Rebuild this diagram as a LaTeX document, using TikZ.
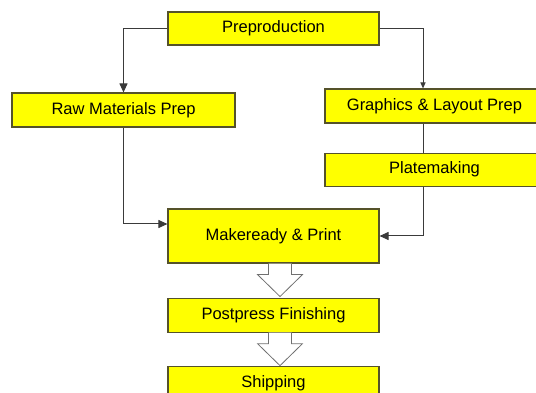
\documentclass[tikz,border=0pt]{standalone}
\usepackage{fontspec}
\setmainfont{Liberation Sans}
\usetikzlibrary{positioning, arrows.meta}
\definecolor{stepfill}{HTML}{FFFF00}
\definecolor{stepstroke}{HTML}{55522A}
\definecolor{linegray}{HTML}{3A3A3A}
\definecolor{hollowstroke}{HTML}{707070}

\begin{document}
\begin{tikzpicture}[
  x=1pt, y=1pt,
  every node/.style={font=\fontsize{16.5}{20}\selectfont},
  >={Triangle[length=9pt, width=8pt]},
  stepbox/.style={
    draw=stepstroke, line width=1.1pt, fill=stepfill,
    inner sep=0pt, minimum height=34pt, align=center
  },
  hollow/.style={draw=hollowstroke, fill=white, line width=0.8pt, line join=miter},
  arrow/.style={->, line width=1pt, draw=linegray}
]
\useasboundingbox (0,0) rectangle (536,-393);

% Top
\node[stepbox, minimum width=211pt, minimum height=33pt] (pre) at (273.5,-28.5) {Preproduction};

% Two branches
\node[stepbox, minimum width=223pt] (raw) at (123.5,-110) {Raw Materials Prep};
\node[stepbox, minimum width=219pt] (gfx) at (434.5,-106) {Graphics \& Layout Prep};
\node[stepbox, minimum width=219pt, minimum height=33pt, below=29pt of gfx] (plate) {Platemaking};

% Press and after
\node[stepbox, minimum width=211pt, minimum height=54pt] (print) at (273.5,-236) {Makeready \& Print};
\node[stepbox, minimum width=211pt, below=34pt of print] (post) {Postpress Finishing};
\node[stepbox, minimum width=211pt, below=33pt of post] (ship) {Shipping};

% Hollow arrows
\draw[hollow] ([xshift=-5pt]print.south) -- ++(0,-11) -- ++(-11,0) -- ++(22.5,-22)
  -- ++(22.5,22) -- ++(-11,0) -- ++(0,11);
\draw[hollow] ([xshift=-5pt]post.south) -- ++(0,-11) -- ++(-11,0) -- ++(22.5,-22)
  -- ++(22.5,22) -- ++(-11,0) -- ++(0,11);

% Arrows
\draw[arrow] (pre.west) -| (raw.north);
\draw[arrow, >={Triangle[length=6pt, width=5pt]}] (pre.east) -| ([xshift=-11.5pt]gfx.north);
\draw[line width=1pt, draw=linegray] ([xshift=-11.5pt]gfx.south) -- ([xshift=-11.5pt]plate.north);
\draw[arrow] (raw.south) |- ([yshift=12pt]print.west);
\draw[arrow] ([xshift=-11.5pt]plate.south) |- (print.east);

\end{tikzpicture}
\end{document}
